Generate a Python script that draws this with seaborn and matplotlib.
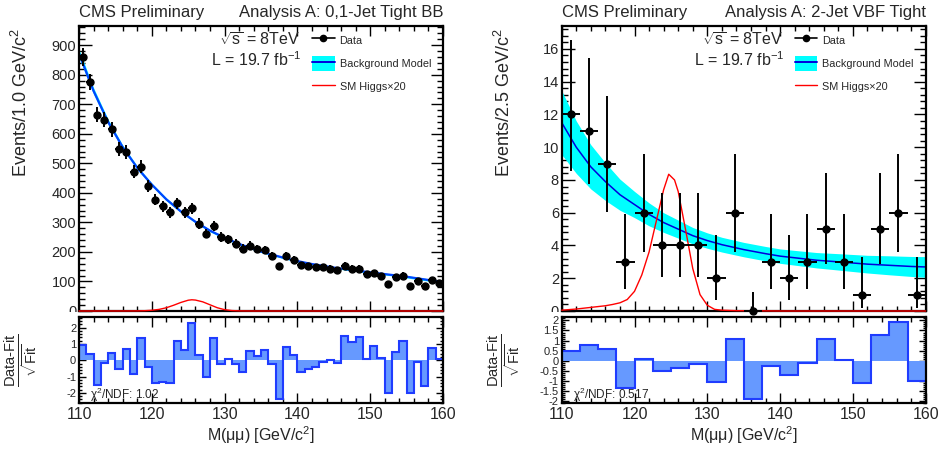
import numpy as np
import matplotlib
matplotlib.use("Agg")
import matplotlib.pyplot as plt
import matplotlib.transforms as mtransforms
import seaborn as sns
from matplotlib.lines import Line2D
from matplotlib.patches import Patch
from matplotlib.ticker import MultipleLocator, FuncFormatter

# ---- left panel: 0,1-Jet Tight BB (1 GeV bins) ----
left_counts = [860, 776, 665, 648, 615, 548, 539, 471, 488, 422,
               377, 355, 334, 365, 334, 348, 296, 262, 287, 250,
               243, 228, 211, 221, 210, 207, 186, 151, 186, 174,
               155, 151, 148, 148, 143, 138, 154, 143, 143, 124,
               129, 117, 93, 115, 120, 85, 100, 85, 106, 95]
left_fit_x = [110, 112, 114, 116, 118, 120, 122, 124, 126, 128, 130, 132,
              135, 138, 140, 142, 145, 148, 150, 152, 155, 158, 160]
left_fit_y = [872, 745, 640, 555, 485, 428, 378, 337, 302, 272, 248, 227,
              201, 181, 169, 159, 147, 137, 131, 125, 116, 105, 98]
left_band = [14, 11, 9, 7, 6, 5, 5, 4, 4, 4, 4, 3, 3, 3, 3, 3, 3, 3, 3, 3, 4, 4, 4]
left_higgs_x = [110, 116, 118, 119, 120, 121, 122, 123, 124, 125, 125.5, 126,
                127, 128, 129, 130, 131, 132, 134, 160]
left_higgs_y = [0, 0.1, 0.3, 1, 2.5, 5.5, 11, 19.5, 29, 36.5, 38, 37,
                31, 21, 11, 4.5, 1.5, 0.4, 0, 0]
left_resid = [0.95, 0.4, -1.5, -0.15, 0.45, -0.55, 0.7, -0.85, 1.35, -0.4,
              -1.4, -1.35, -1.4, 1.2, 0.6, 2.3, 0.3, -1.0, 1.35, -0.2,
              0.05, -0.2, -0.75, 0.55, 0.25, 0.65, -0.25, -2.4, 0.8, 0.3,
              -0.7, -0.55, -0.4, -0.1, 0.0, -0.15, 1.5, 1.1, 1.4, 0.1,
              0.9, 0.15, -2.0, 0.5, 1.15, -2.0, -0.1, -1.6, 0.75, 0.1]

# ---- right panel: 2-Jet VBF Tight (2.5 GeV bins) ----
right_counts = [12, 11, 9, 3, 6, 4, 4, 4, 2, 6, 0, 3, 2, 3, 5, 3, 1, 5, 6, 1]
right_err_lo = [3.43, 3.27, 2.94, 1.65, 2.4, 1.94, 1.94, 1.94, 1.31, 2.4,
                0, 1.65, 1.31, 1.65, 2.14, 1.65, 0.83, 2.14, 2.4, 0.83]
right_err_hi = [4.57, 4.45, 4.14, 2.9, 3.6, 3.18, 3.18, 3.18, 2.65, 3.6,
                1.15, 2.9, 2.65, 2.9, 3.4, 2.9, 2.3, 3.4, 3.6, 2.3]
right_fit_x = [110, 112, 114, 116, 118, 120, 122, 124, 126, 128, 130, 132,
               135, 138, 140, 142, 145, 148, 150, 152, 155, 158, 160]
right_fit_y = [11.5, 10.0, 8.8, 7.9, 7.1, 6.5, 5.9, 5.4, 5.0, 4.6, 4.3, 4.05,
               3.75, 3.5, 3.35, 3.25, 3.1, 3.0, 2.93, 2.86, 2.79, 2.72, 2.69]
right_band = [1.95, 1.6, 1.35, 1.15, 0.95, 0.8, 0.7, 0.6, 0.55, 0.5, 0.47, 0.45,
              0.44, 0.44, 0.44, 0.45, 0.47, 0.5, 0.52, 0.54, 0.58, 0.61, 0.63]
right_higgs_x = [110, 112, 114, 116, 117, 118, 119, 120, 121, 122, 123, 124,
                 124.7, 125.5, 126, 127, 128, 129, 130, 131, 132, 134, 140, 160]
right_higgs_y = [0.05, 0.12, 0.22, 0.32, 0.4, 0.5, 0.7, 1.2, 2.2, 3.6, 5.5, 7.4,
                 8.35, 8.0, 7.3, 5.0, 2.6, 1.0, 0.35, 0.1, 0.05, 0.02, 0.0, 0.0]
right_resid = [0.48, 0.78, 0.57, -1.38, 0.07, -0.53, -0.37, -0.18, -1.05, 1.07,
               -1.92, -0.25, -0.73, -0.1, 1.08, 0.02, -1.13, 1.3, 1.92, -1.03]

sns.set_theme(style="ticks")
plt.rcParams['font.family'] = ['Liberation Sans', 'DejaVu Sans']
plt.rcParams['mathtext.fontset'] = 'custom'
plt.rcParams['mathtext.rm'] = 'Liberation Sans'
plt.rcParams['mathtext.it'] = 'Liberation Sans:italic'
plt.rcParams['mathtext.bf'] = 'Liberation Sans:bold'
plt.rcParams['axes.unicode_minus'] = False

fig = plt.figure(figsize=(9.38, 4.51), dpi=100)
W, H = 938.0, 451.0


def style_axes(ax, xmaj, xmin, ymaj, ymin, ylen):
    for s in ax.spines.values():
        s.set_linewidth(1.6)
        s.set_color('black')
    ax.xaxis.set_major_locator(MultipleLocator(xmaj))
    ax.xaxis.set_minor_locator(MultipleLocator(xmin))
    ax.yaxis.set_major_locator(MultipleLocator(ymaj))
    ax.yaxis.set_minor_locator(MultipleLocator(ymin))
    ax.yaxis.set_major_formatter(FuncFormatter(lambda v, pos: '%g' % round(v, 3)))
    ax.tick_params(axis='both', which='both', direction='in', top=True, right=True,
                   color='black', width=1.0, pad=2)
    ax.tick_params(axis='x', which='major', length=7)
    ax.tick_params(axis='x', which='minor', length=3.5)
    ax.tick_params(axis='y', which='major', length=ylen)
    ax.tick_params(axis='y', which='minor', length=ylen / 2)


panels = [
    dict(x0=79, title='Analysis A: 0,1-Jet Tight BB', ylabel='Events/1.0 GeV/c$^{2}$',
         chi='χ$^{2}$/NDF: 1.02'),
    dict(x0=561.7, title='Analysis A: 2-Jet VBF Tight', ylabel='Events/2.5 GeV/c$^{2}$',
         chi='χ$^{2}$/NDF: 0.517'),
]

main_axes = []
for i, p in enumerate(panels):
    ax = fig.add_axes([p['x0'] / W, 1 - 311 / H, 364 / W, 285 / H])
    rx = fig.add_axes([p['x0'] / W, 1 - 403 / H, 364 / W, 86 / H])
    main_axes.append(ax)

    if i == 0:
        fx, fy, fb = np.array(left_fit_x), np.array(left_fit_y), np.array(left_band)
        ax.fill_between(fx, fy - fb, fy + fb, color='#00ffff', lw=0, zorder=1)
        sns.lineplot(x=fx, y=fy, ax=ax, color='#0044ff', lw=1.6, zorder=2)
        sns.lineplot(x=left_higgs_x, y=left_higgs_y, ax=ax, color='red', lw=1.0,
                     zorder=4, clip_on=False)
        centers = np.arange(110.5, 160, 1.0)
        cnt = np.array(left_counts)
        ax.errorbar(centers, cnt, yerr=np.sqrt(cnt), xerr=0.5, fmt='o', color='black',
                    ms=5, elinewidth=1.4, capsize=0, zorder=5)
        ax.set_ylim(0, 965)
        style_axes(ax, 10, 2, 100, 20, 9)
        edges = np.arange(110, 161, 1.0)
        resid = left_resid
        rx.set_ylim(-2.62, 2.65)
        style_axes(rx, 10, 2, 1, 0.2, 5)
    else:
        fx, fy, fb = np.array(right_fit_x), np.array(right_fit_y), np.array(right_band)
        ax.fill_between(fx, fy - fb, fy + fb, color='#00ffff', lw=0, zorder=1)
        sns.lineplot(x=fx, y=fy, ax=ax, color='#0000dd', lw=1.1, zorder=2)
        sns.lineplot(x=right_higgs_x, y=right_higgs_y, ax=ax, color='red', lw=1.0,
                     zorder=4, clip_on=False)
        centers = np.arange(111.25, 160, 2.5)
        ax.errorbar(centers, right_counts, yerr=[right_err_lo, right_err_hi], xerr=1.25,
                    fmt='o', color='black', ms=5, elinewidth=1.4, capsize=0, zorder=5,
                    clip_on=False)
        ax.set_ylim(0, 17.4)
        style_axes(ax, 10, 2, 2, 0.4, 9)
        edges = np.arange(110, 161, 2.5)
        resid = right_resid
        rx.set_ylim(-2.1, 2.17)
        style_axes(rx, 10, 2, 0.5, 0.1, 5)

    ax.set_xlim(110, 160)
    ax.set_xticklabels([])
    ax.set_xlabel('')
    ax.tick_params(axis='y', labelsize=10.5)
    ax.set_ylabel(p['ylabel'], fontsize=13)
    ax.yaxis.set_label_coords(-0.131, 0.73)

    ax.text(0, 1 + 14 / 285, 'CMS Preliminary', transform=ax.transAxes, fontsize=12,
            ha='left', va='center')
    ax.text(1, 1 + 14 / 285, p['title'], transform=ax.transAxes, fontsize=12,
            ha='right', va='center')
    ax.text(0.607, 0.95, r'$\sqrt{\mathrm{s}}$ = 8TeV', transform=ax.transAxes,
            fontsize=11.5, ha='right', va='center')
    ax.text(0.611, 0.882, 'L = 19.7 fb$^{-1}$', transform=ax.transAxes,
            fontsize=11.5, ha='right', va='center')

    h_data = Line2D([], [], color='black', marker='o', ms=4.5, lw=1.2)
    h_bkg = (Patch(facecolor='#00ffff', edgecolor='none'),
             Line2D([], [], color='#0000dd', lw=1.4))
    h_sig = Line2D([], [], color='red', lw=1.0)
    ax.legend([h_data, h_bkg, h_sig], ['Data', 'Background Model', 'SM Higgs×20'],
              loc='upper left', bbox_to_anchor=(0.64, 0.975), frameon=False,
              fontsize=7.8, labelspacing=0.82, handlelength=2.1, handleheight=1.66,
              handletextpad=0.45, borderaxespad=0, borderpad=0)

    # residuals
    rx.stairs(resid, edges, baseline=0, fill=True, color='#6699ff', lw=0, zorder=1)
    rx.stairs(resid, edges, baseline=None, color='#1f3cff', lw=1.5, zorder=2)
    rx.set_xlim(110, 160)
    rx.tick_params(axis='x', labelsize=11.5, pad=3)
    rx.tick_params(axis='y', labelsize=8)
    rx.set_ylabel(r'$\frac{\mathrm{Data\text{-}Fit}}{\sqrt{\mathrm{Fit}}}$', fontsize=15)
    rx.yaxis.set_label_coords(-0.107, 0.5)
    rx.set_xlabel('M(μμ) [GeV/c$^{2}$]', fontsize=11.5)
    rx.xaxis.set_label_coords(0.5, -0.25)
    rx.text(0.03, 0.1, p['chi'], transform=rx.transAxes, fontsize=8.5,
            ha='left', va='center')

# the main panels' "0" label is cut by the residual pad, as in the original
fig.canvas.draw()
clip = mtransforms.Bbox.from_extents(0, H - 311.5, W, H)
for ax in main_axes:
    for lab in ax.get_yticklabels():
        if lab.get_text() == '0':
            lab.set_clip_on(True)
            lab.set_clip_box(mtransforms.TransformedBbox(
                mtransforms.Bbox.from_extents(0, (H - 311.5) / H, 1, 1), fig.transFigure))

fig.savefig('out.png', dpi=100, facecolor='white')
